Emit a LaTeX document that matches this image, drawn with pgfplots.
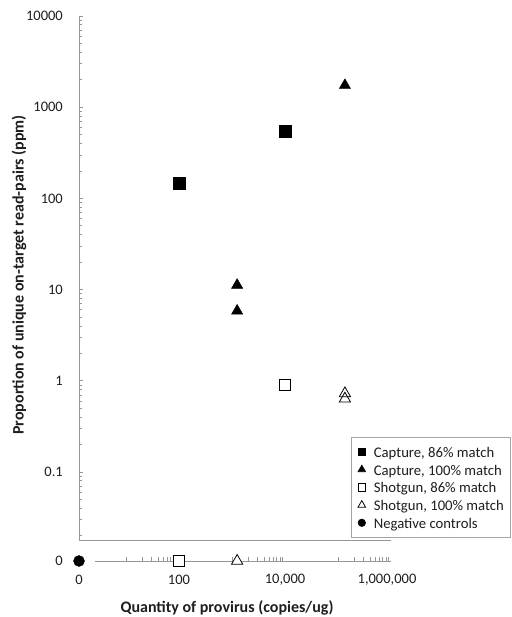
\documentclass[border=0pt]{standalone}
\usepackage{fontspec}
\setmainfont{Carlito}
\usepackage{pgfplots}
\pgfplotsset{compat=1.18}
\definecolor{axgray}{RGB}{150,150,150}
\definecolor{lggray}{RGB}{165,165,165}
\definecolor{txt}{RGB}{30,30,30}

\begin{document}
\begin{tikzpicture}
\useasboundingbox (0pt,0pt) rectangle (511pt,617pt);
\pgfplotsset{
  every axis/.append style={
    scale only axis, clip=false,
    /pgf/number format/assume math mode=true,
    tick label style={font=\fontsize{14.5}{17}\selectfont, text=txt, inner sep=0pt},
    axis line style={draw=axgray, line width=0.9pt},
    every tick/.style={draw=axgray, line width=0.7pt},
    tick align=inside,
  }
}

% main log-log part
\begin{axis}[
  at={(79pt,77pt)}, anchor=south west,
  width=312pt, height=524pt,
  xmode=log, ymode=log,
  xmin=1.2977, xmax=1e6, ymin=0.01795, ymax=10000,
  axis y line*=left, axis x line*=none,
  xtick=\empty,
  ytick={0.1,1,10,100,1000,10000},
  yticklabels={0.1,1,10,100,1000,10000},
  minor ytick={0.02,0.03,0.04,0.05,0.06,0.07,0.08,0.09,
               0.2,0.3,0.4,0.5,0.6,0.7,0.8,0.9,
               2,3,4,5,6,7,8,9,
               20,30,40,50,60,70,80,90,
               200,300,400,500,600,700,800,900,
               2000,3000,4000,5000,6000,7000,8000,9000},
  major tick length=4.5pt, minor tick length=3pt,
  yticklabel style={anchor=east, xshift=-16pt},
  ylabel={Proportion of unique on-target read-pairs (ppm)},
  every axis y label/.style={at={(rel axis cs:0,0.5057)}, xshift=-60pt, rotate=90, anchor=center,
     font=\fontsize{16}{19}\selectfont\bfseries, text=txt},
  legend style={at={(0.8718,0.1966)}, anchor=north west,
     draw=lggray, line width=0.6pt, fill=white,
     font=\fontsize{14.7}{17}\selectfont, text=txt,
     inner xsep=6.5pt, inner ysep=6pt, row sep=0.75pt,
     nodes={inner sep=0pt, text height=14pt, text depth=3pt},
     /tikz/every odd column/.append style={column sep=8pt}},
  legend cell align=left,
  legend image code/.code={%
     \path[draw=none, fill=none] (-4pt,-4pt) rectangle (4pt,4pt);
     \draw[#1, /tikz/every mark/.append style={scale=0.68}] plot coordinates {(0pt,0pt)};},
]
\addplot[only marks, mark=square*, mark size=5.7pt, draw=black, fill=black] coordinates {(100,147) (10000,548)};
\addlegendentry{Capture, 86\% match}
\addplot[only marks, mark=triangle*, mark size=6.5pt, draw=black, fill=black] coordinates {(1250,11.2) (1250,5.84) (135000,1738)};
\addlegendentry{Capture, 100\% match}
\addplot[only marks, mark=square*, mark size=5.5pt, draw=black, fill=white, line width=0.8pt] coordinates {(10000,0.91)};
\addlegendentry{Shotgun, 86\% match}
\addplot[only marks, mark=triangle, mark size=6.5pt, draw=black, line width=0.8pt] coordinates {(135000,0.726) (135000,0.635)};
\addlegendentry{Shotgun, 100\% match}
\addlegendimage{only marks, mark=*, mark size=5.5pt, draw=black, fill=black}
\addlegendentry{Negative controls}
\end{axis}

% zero row (y = 0) on the log x axis
\begin{axis}[
  at={(95pt,56pt)}, anchor=south west, width=296pt, height=20pt,
  xmode=log, xmin=2.601, xmax=1e6, ymin=0, ymax=1,
  axis x line*=bottom, axis y line*=none,
  y axis line style={draw=none},
  ytick=\empty,
  xtick={100,10000}, xticklabels={100,10{,}000},
  extra x ticks={1000000}, extra x tick labels={1{,}000{,}000},
  extra x tick style={xticklabel style={xshift=-4pt}},
  minor xtick={10,20,30,40,50,60,70,80,90,
               1000,2000,3000,4000,5000,6000,7000,8000,9000,
               100000,200000,300000,400000,500000,600000,700000,800000,900000},
  major tick length=0pt, minor tick length=3.5pt,
  xticklabel style={anchor=center, yshift=-19pt},
  xlabel={Quantity of provirus (copies/ug)},
  every axis x label/.style={at={(rel axis cs:0.446,0)}, anchor=center, yshift=-47pt,
     font=\fontsize{16}{19}\selectfont\bfseries, text=txt},
]
\addplot[only marks, mark=square*, mark size=5.5pt, draw=black, fill=white, line width=0.8pt] coordinates {(100,0)};
\addplot[only marks, mark=triangle*, mark size=6.5pt, draw=black, fill=white, line width=0.8pt] coordinates {(1250,0)};
\end{axis}

% the zero point (x = 0, y = 0)
\begin{axis}[
  at={(69pt,46pt)}, anchor=south west, width=20pt, height=20pt,
  xmin=-1, xmax=1, ymin=-1, ymax=1,
  axis line style={draw=none}, every tick/.style={draw=none},
  xtick={0}, ytick={0},
  xticklabel style={anchor=center, yshift=-9pt},
  yticklabel style={anchor=east, xshift=-6pt},
]
\addplot[only marks, mark=*, mark size=5.5pt, draw=black, fill=black] coordinates {(0,0)};
\end{axis}
\end{tikzpicture}
\end{document}
